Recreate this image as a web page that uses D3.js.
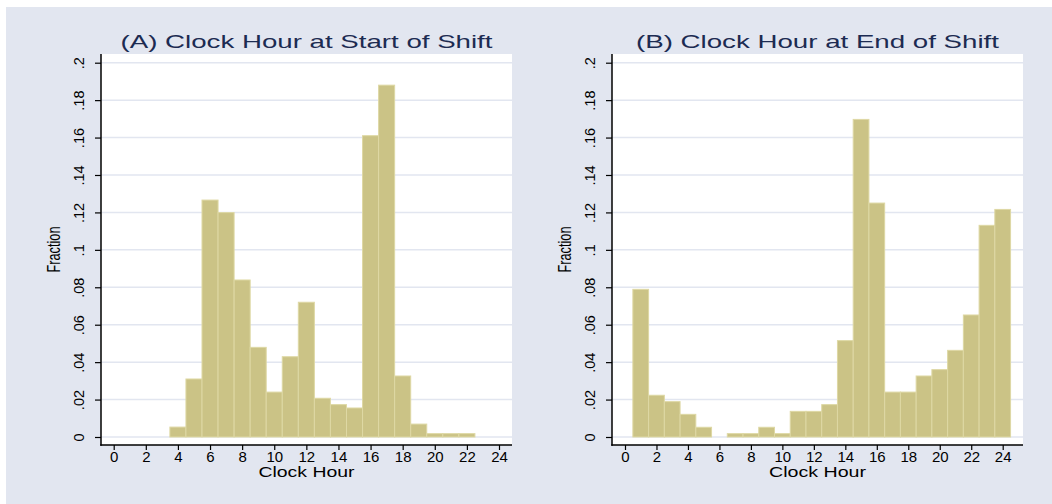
<html>
<head>
<meta charset="utf-8">
<title>Clock Hour at Start and End of Shift</title>
<script src="https://cdn.jsdelivr.net/npm/d3@7"></script>
<style>
    body{
        margin: 0;
        background: #ffffff;
    }
    text{
        font-family: "Liberation Sans", Arial, sans-serif;
    }
</style>
</head>
<body>
<svg id="chart" width="1052" height="504"></svg>
<script>
    // histogram data, one bar per clock hour
    var hours = [0,1,2,3,4,5,6,7,8,9,10,11,12,13,14,15,16,17,18,19,20,21,22,23,24];
    var startFrac = [0,0,0,0,.0053,.031,.1266,.1199,.0839,.0479,.024,.0429,.072,.0207,.0173,.0155,.161,.188,.0326,.0069,.0018,.0018,.0018,0,0];
    var endFrac = [0,.0789,.0223,.0189,.0121,.0052,0,.0018,.0018,.0052,.0018,.0137,.0137,.0173,.0515,.1697,.125,.024,.024,.0326,.036,.0463,.0652,.1131,.1216];
    var xTicks = [0,2,4,6,8,10,12,14,16,18,20,22,24];
    var yTicks = [0,.02,.04,.06,.08,.1,.12,.14,.16,.18,.2];
    var yTickLabels = ["0",".02",".04",".06",".08",".1",".12",".14",".16",".18",".2"];
    var titles = ["(A) Clock Hour at Start of Shift", "(B) Clock Hour at End of Shift"];

    var svg = d3.select("#chart");

    svg.append("rect")
        .attr("x", 6).attr("y", 7)
        .attr("width", 1046).attr("height", 497)
        .attr("fill", "#e2e6f0");

    var panels = [
        {title: titles[0], values: startFrac, left: 101, right: 512, x0: 113.7, x24: 499, titleLen: 372, labelLen: 96},
        {title: titles[1], values: endFrac, left: 612, right: 1023, x0: 625, x24: 1002.7, titleLen: 363, labelLen: 97}
    ];
    var plotTop = 54, plotBottom = 445;

    function drawPanel(p){
        var g = svg.append("g");
        var x = d3.scaleLinear().domain([0, 24]).range([p.x0, p.x24]);
        var y = d3.scaleLinear().domain([0, .2]).range([437, 62.7]);

        g.append("rect")
            .attr("x", p.left).attr("y", plotTop)
            .attr("width", p.right - p.left).attr("height", plotBottom - plotTop)
            .attr("fill", "#ffffff");

        // grid
        g.selectAll(".grid").data(yTicks).enter().append("line")
            .attr("x1", p.left).attr("x2", p.right)
            .attr("y1", function(d){ return y(d); })
            .attr("y2", function(d){ return y(d); })
            .attr("stroke", "#e2e6f0").attr("stroke-width", 1.5);

        // bars
        var bars = hours.map(function(h, i){ return {h: h, v: p.values[i]}; })
                        .filter(function(d){ return d.v > 0; });
        g.selectAll(".bar").data(bars).enter().append("rect")
            .attr("x", function(d){ return x(d.h - .5); })
            .attr("width", function(d){ return x(d.h + .5) - x(d.h - .5); })
            .attr("y", function(d){ return y(d.v); })
            .attr("height", function(d){ return y(0) - y(d.v); })
            .attr("fill", "#cbc386")
            .attr("stroke", "#ded8a4")
            .attr("stroke-width", 1);

        // y axis
        var yAxis = d3.axisLeft(y).tickValues(yTicks).tickSize(6)
            .tickFormat(function(d, i){ return yTickLabels[i]; });
        var ya = g.append("g").attr("transform", "translate(" + p.left + ",0)").call(yAxis);
        ya.select(".domain").remove();
        ya.selectAll(".tick line").attr("stroke", "#000").attr("stroke-width", 1.2);
        ya.selectAll(".tick text")
            .attr("x", null).attr("dy", null)
            .attr("transform", "translate(-17,0) rotate(-90)")
            .attr("text-anchor", "middle")
            .attr("font-size", 14.5).attr("fill", "#000")
            .attr("font-family", "Liberation Sans, Arial, sans-serif");

        // x axis
        var xAxis = d3.axisBottom(x).tickValues(xTicks).tickSize(5);
        var xa = g.append("g").attr("transform", "translate(0," + plotBottom + ")").call(xAxis);
        xa.select(".domain").remove();
        xa.selectAll(".tick line").attr("stroke", "#000").attr("stroke-width", 1.2);
        xa.selectAll(".tick text")
            .attr("y", 17).attr("dy", null)
            .attr("font-size", 15).attr("fill", "#000")
            .attr("font-family", "Liberation Sans, Arial, sans-serif");

        // axis lines
        g.append("line").attr("x1", p.left).attr("x2", p.left)
            .attr("y1", plotTop).attr("y2", plotBottom + .75)
            .attr("stroke", "#000").attr("stroke-width", 1.5);
        g.append("line").attr("x1", p.left - .75).attr("x2", p.right)
            .attr("y1", plotBottom).attr("y2", plotBottom)
            .attr("stroke", "#000").attr("stroke-width", 1.5);

        var cx = (p.left + p.right) / 2;
        g.append("text")
            .attr("x", cx).attr("y", 48)
            .attr("text-anchor", "middle")
            .attr("font-size", 19).attr("fill", "#1c2b52")
            .attr("textLength", p.titleLen).attr("lengthAdjust", "spacingAndGlyphs")
            .text(p.title);

        g.append("text")
            .attr("x", cx).attr("y", 477)
            .attr("text-anchor", "middle")
            .attr("font-size", 15).attr("fill", "#000")
            .attr("textLength", p.labelLen).attr("lengthAdjust", "spacingAndGlyphs")
            .text("Clock Hour");

        g.append("text")
            .attr("transform", "translate(" + (p.left - 41) + "," + ((plotTop + plotBottom) / 2) + ") rotate(-90)")
            .attr("text-anchor", "middle")
            .attr("font-size", 18).attr("fill", "#000")
            .attr("font-family", "Liberation Sans Narrow, Arial Narrow, Liberation Sans, sans-serif")
            .attr("textLength", 46).attr("lengthAdjust", "spacingAndGlyphs")
            .text("Fraction");
    }

    panels.forEach(drawPanel);
</script>
</body>
</html>
